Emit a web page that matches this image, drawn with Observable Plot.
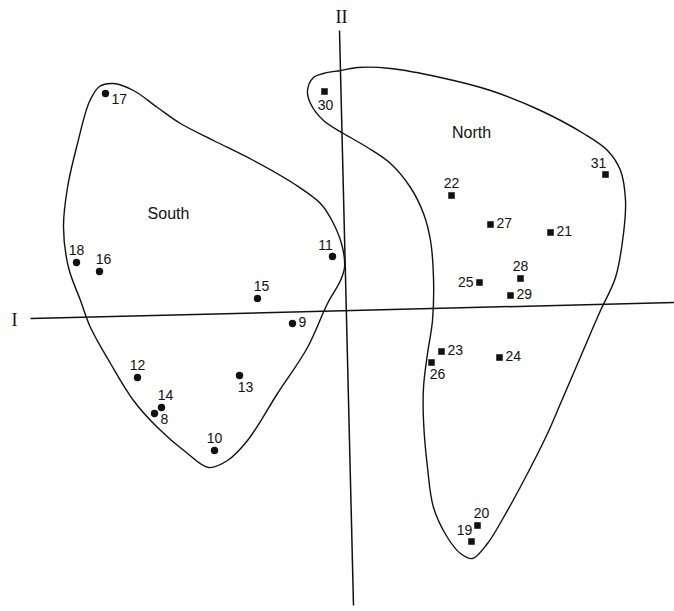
<!DOCTYPE html>
<html>
<head>
<meta charset="utf-8">
<script src="https://cdn.jsdelivr.net/npm/d3@7"></script>
<script src="https://cdn.jsdelivr.net/npm/@observablehq/plot@0.6"></script>
<style>
  html, body { margin: 0; padding: 0; background: #fff; }
  #chart svg { display: block; }
</style>
</head>
<body>
<div id="chart"></div>
<script>
// Component scores (I, II) of the southern sites
const southIds = [8, 9, 10, 11, 12, 13, 14, 15, 16, 17, 18];
const southI   = [-1.92, -0.54, -1.32, -0.14, -2.09, -1.07, -1.85, -0.89, -2.47, -2.41, -2.70];
const southII  = [-1.03, -0.13, -1.40, 0.54, -0.67, -0.65, -0.97, 0.12, 0.39, 2.17, 0.48];

// Component scores (I, II) of the northern sites
const northIds = [19, 20, 21, 22, 23, 24, 25, 26, 27, 28, 29, 30, 31];
const northI   = [1.25, 1.31, 2.04, 1.05, 0.95, 1.53, 1.33, 0.85, 1.44, 1.74, 1.64, -0.22, 2.59];
const northII  = [-2.31, -2.15, 0.78, 1.15, -0.41, -0.47, 0.28, -0.52, 0.86, 0.32, 0.15, 2.19, 1.36];

// Hand-drawn group envelopes
const southOutline = [
  [-2.33, 2.27], [-2.47, 2.24], [-2.57, 2.09], [-2.69, 1.67], [-2.79, 1.23], [-2.83, 0.83],
  [-2.78, 0.43], [-2.66, 0.10], [-2.56, -0.17], [-2.36, -0.53], [-2.13, -0.90], [-1.89, -1.17],
  [-1.59, -1.43], [-1.38, -1.57], [-1.19, -1.50], [-0.99, -1.30], [-0.69, -0.83], [-0.39, -0.37],
  [-0.19, 0.07], [-0.06, 0.30], [-0.02, 0.43], [-0.04, 0.63], [-0.13, 0.87], [-0.26, 1.07],
  [-0.53, 1.27], [-0.93, 1.50], [-1.33, 1.70], [-1.66, 1.87], [-1.89, 2.03], [-2.13, 2.20]
];
const northOutline = [
  [-0.06, 2.40], [0.11, 2.43], [0.44, 2.42], [0.94, 2.33], [1.44, 2.20], [1.94, 2.00],
  [2.37, 1.77], [2.61, 1.60], [2.74, 1.40], [2.79, 1.10], [2.77, 0.77], [2.69, 0.33],
  [2.54, 0.00], [2.44, -0.23], [2.14, -0.93], [2.01, -1.23], [1.81, -1.63], [1.57, -2.07],
  [1.41, -2.33], [1.26, -2.48], [1.14, -2.43], [1.01, -2.27], [0.87, -1.97], [0.81, -1.57],
  [0.77, -1.10], [0.77, -0.77], [0.81, -0.43], [0.86, -0.10], [0.87, 0.33], [0.84, 0.70],
  [0.77, 0.97], [0.64, 1.23], [0.44, 1.47], [0.21, 1.63], [-0.03, 1.77], [-0.23, 1.90],
  [-0.36, 2.07], [-0.39, 2.20], [-0.33, 2.33], [-0.23, 2.37]
];

// Group names and where they sit in score space
const groupNames = ["South", "North"];
const groupNameAt = [[-1.78, 0.97], [1.25, 1.78]];

// Component axes (slightly rotated), with their names
const axisNames = ["I", "II"];
const axisFrom = [[-3.16, -0.08], [-0.07, 2.80]];
const axisTo   = [[3.28, 0.08], [0.07, -2.95]];
const axisNameAt = [[-3.32, -0.10], [-0.05, 2.93]];

// Which side of its marker each site number is written on
const labelSide = {
  above: [18, 12, 10, 22, 28],
  aboveRight: [16, 15, 14, 20],
  aboveLeft: [11, 31, 19],
  below: [30],
  belowRight: [13, 26],
  right: [9, 27, 21, 29, 24, 23],
  rightLow: [17, 8],
  left: [25]
};
const sideStyle = {
  above:      {dx: 0,  dy: -12, textAnchor: "middle"},
  aboveRight: {dx: 4,  dy: -12, textAnchor: "middle"},
  aboveLeft:  {dx: -7, dy: -11, textAnchor: "middle"},
  below:      {dx: 1,  dy: 14,  textAnchor: "middle"},
  belowRight: {dx: 6,  dy: 12,  textAnchor: "middle"},
  right:      {dx: 6,  dy: -1,  textAnchor: "start"},
  rightLow:   {dx: 6,  dy: 6,   textAnchor: "start"},
  left:       {dx: -6, dy: 0,   textAnchor: "end"}
};

const south = southIds.map((id, i) => ({id, I: southI[i], II: southII[i]}));
const north = northIds.map((id, i) => ({id, I: northI[i], II: northII[i]}));
const sites = south.concat(north);

const font = "'Liberation Sans', Arial, sans-serif";

const labelMarks = Object.entries(labelSide).map(([side, ids]) =>
  Plot.text(sites.filter(d => ids.includes(d.id)), {
    x: "I", y: "II", text: d => String(d.id),
    fontSize: 14, fontFamily: font, fill: "#111",
    lineAnchor: "middle",
    ...sideStyle[side]
  })
);

const axes = axisNames.map((name, i) => ({name, from: axisFrom[i], to: axisTo[i], at: axisNameAt[i]}));

const chart = Plot.plot({
  width: 674,
  height: 611,
  margin: 0,
  x: {domain: [-3.46, 3.28], axis: null},
  y: {domain: [-3.01, 3.10], axis: null},
  marks: [
    Plot.link(axes, {
      x1: d => d.from[0], y1: d => d.from[1], x2: d => d.to[0], y2: d => d.to[1],
      stroke: "#111", strokeWidth: 1.5
    }),
    Plot.text(axes, {
      x: d => d.at[0], y: d => d.at[1], text: "name",
      fontFamily: "'Liberation Serif', 'DejaVu Serif', serif", fontSize: 18,
      letterSpacing: "-1.5px", fill: "#111", lineAnchor: "middle"
    }),
    Plot.line(southOutline, {x: d => d[0], y: d => d[1], curve: "catmull-rom-closed", stroke: "#111", strokeWidth: 1.4}),
    Plot.line(northOutline, {x: d => d[0], y: d => d[1], curve: "catmull-rom-closed", stroke: "#111", strokeWidth: 1.4}),
    Plot.dot(south, {x: "I", y: "II", r: 3.7, fill: "#111", stroke: "none", symbol: "circle"}),
    Plot.dot(north, {x: "I", y: "II", r: 3.7, fill: "#111", stroke: "none", symbol: "square"}),
    ...labelMarks,
    Plot.text(groupNames, {
      x: (d, i) => groupNameAt[i][0], y: (d, i) => groupNameAt[i][1], text: d => d,
      fontSize: 16, fontFamily: font, letterSpacing: "1px", fill: "#111", lineAnchor: "middle"
    })
  ]
});

document.getElementById("chart").appendChild(chart);
</script>
</body>
</html>
